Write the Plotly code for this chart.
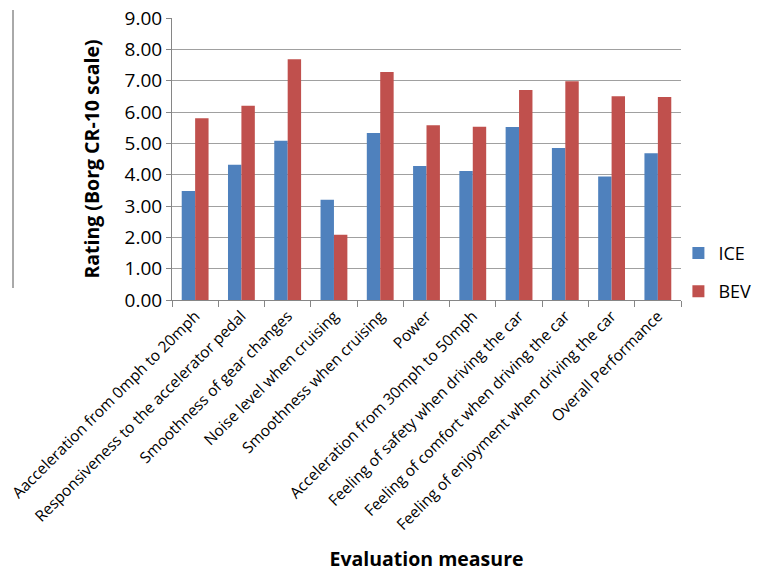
import plotly.graph_objects as go

categories = [
    "Aacceleration from 0mph to 20mph",
    "Responsiveness to the accelerator pedal",
    "Smoothness of gear changes",
    "Noise level when cruising",
    "Smoothness when cruising",
    "Power",
    "Acceleration from 30mph to 50mph",
    "Feeling of safety when driving the car",
    "Feeling of comfort when driving the car",
    "Feeling of enjoyment when driving the car",
    "Overall Performance",
]
ice = [3.48, 4.32, 5.08, 3.20, 5.33, 4.28, 4.12, 5.52, 4.85, 3.94, 4.68]
bev = [5.80, 6.20, 7.68, 2.08, 7.28, 5.58, 5.53, 6.70, 6.98, 6.50, 6.48]
y_ticks = [0, 1, 2, 3, 4, 5, 6, 7, 8, 9]

FONT = "Open Sans"

fig = go.Figure()
fig.add_trace(go.Bar(x=categories, y=ice, name="ICE", legendgroup="a",
                     marker=dict(color="#4F81BD", line=dict(width=0))))
fig.add_trace(go.Bar(x=categories, y=bev, name="BEV", legendgroup="b",
                     marker=dict(color="#C0504D", line=dict(width=0))))

fig.update_layout(
    width=758, height=573,
    margin=dict(l=172, r=77, t=18, b=273, autoexpand=False),
    plot_bgcolor="white", paper_bgcolor="white",
    barmode="group", bargap=0.42, bargroupgap=0,
    font=dict(family=FONT, color="#000000"),
    legend=dict(xref="container", yref="container", x=0.895, y=0.525,
                xanchor="left", yanchor="middle",
                font=dict(size=18, family=FONT), tracegroupgap=12,
                itemwidth=30, bgcolor="rgba(0,0,0,0)"),
    shapes=[dict(type="line", xref="paper", yref="paper",
                 x0=(13 - 172) / 509, x1=(13 - 172) / 509,
                 y0=(300 - 10) / 282, y1=(300 - 288) / 282,
                 line=dict(color="#555555", width=1))],
)
fig.update_xaxes(
    type="category", tickangle=-45, tickson="boundaries",
    ticks="outside", ticklen=6, tickcolor="#868686",
    showline=True, linecolor="#868686", linewidth=1,
    tickfont=dict(size=15.5, family=FONT),
    title=dict(text="<b>Evaluation measure</b>", font=dict(size=19.5, family=FONT),
               standoff=18),
    showgrid=False, automargin=False,
)
fig.update_yaxes(
    range=[0, 9], tickvals=y_ticks, ticktext=[f"{v:.2f}" for v in y_ticks],
    ticks="outside", ticklen=5, tickcolor="#868686",
    showline=True, linecolor="#868686", linewidth=1,
    showgrid=True, gridcolor="#A0A0A0", gridwidth=1,
    tickfont=dict(size=19, family=FONT),
    title=dict(text="<b>Rating (Borg CR-10 scale)</b>", font=dict(size=19.5, family=FONT),
               standoff=19),
    zeroline=False, automargin=False,
)

fig.write_html("out.html")
